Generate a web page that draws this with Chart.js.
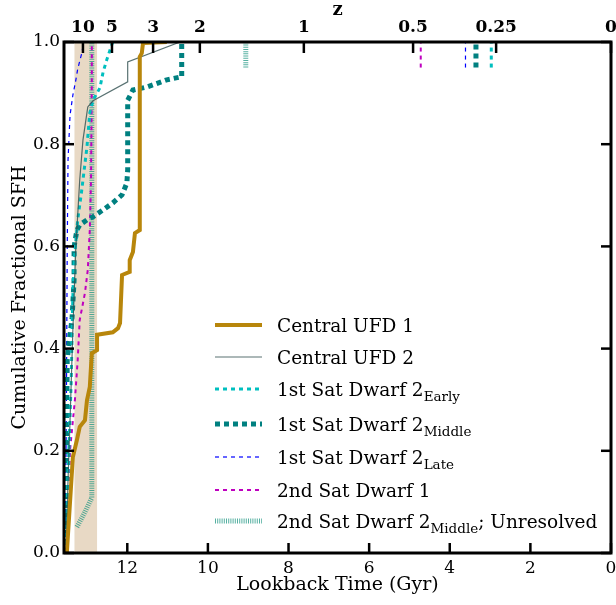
<!DOCTYPE html>
<html><head><meta charset="utf-8">
<script src="https://cdn.jsdelivr.net/npm/chart.js@4.4.0/dist/chart.umd.min.js"></script>
<style>html,body{margin:0;padding:0;background:#fff;} canvas{display:block;}</style>
</head><body>
<canvas id="c" width="616" height="605"></canvas>
<script>
// ---------- data ----------
const xTicks = [0, 2, 4, 6, 8, 10, 12];
const yTicks = [0, 0.2, 0.4, 0.6, 0.8, 1.0];
const zLabels = ['10', '5', '3', '2', '1', '0.5', '0.25', '0'];
const zLookback = [13.10, 12.38, 11.36, 10.20, 7.62, 4.91, 2.85, 0];
const bandRange = [12.75, 13.31];
const xMax = 13.57;

const seriesLabels = [
  'Central UFD 1', 'Central UFD 2', '1st Sat Dwarf 2 Early', '1st Sat Dwarf 2 Middle',
  '1st Sat Dwarf 2 Late', '2nd Sat Dwarf 1', '2nd Sat Dwarf 2 Middle; Unresolved'
];
const legendParts = [
  [['Central UFD 1', 0]],
  [['Central UFD 2', 0]],
  [['1st Sat Dwarf 2', 0], ['Early', 1]],
  [['1st Sat Dwarf 2', 0], ['Middle', 1]],
  [['1st Sat Dwarf 2', 0], ['Late', 1]],
  [['2nd Sat Dwarf 1', 0]],
  [['2nd Sat Dwarf 2', 0], ['Middle', 1], ['; Unresolved', 0]]
];

const ufd1T = [13.50, 13.35, 13.25, 13.18, 13.05, 13.00, 12.93, 12.88, 12.75, 12.75, 12.36, 12.23, 12.18, 12.13, 11.94, 11.94, 11.86, 11.81, 11.69, 11.69, 11.64, 11.61, 11.02];
const ufd1F = [0.0, 0.188, 0.221, 0.247, 0.260, 0.299, 0.325, 0.391, 0.397, 0.427, 0.432, 0.440, 0.450, 0.544, 0.550, 0.573, 0.589, 0.626, 0.632, 0.971, 0.978, 0.998, 1.0];

const ufd2T = [13.52, 13.47, 13.42, 13.35, 13.28, 13.18, 13.10, 12.98, 12.85, 11.99, 11.99, 10.69];
const ufd2F = [0.0, 0.143, 0.260, 0.436, 0.593, 0.730, 0.808, 0.873, 0.885, 0.922, 0.961, 1.0];

const earlyT = [13.52, 13.49, 13.44, 13.39, 13.36, 13.34, 13.30, 13.23, 13.13, 13.00, 12.93, 12.85, 12.68, 12.60, 12.51, 12.43, 12.36];
const earlyF = [0.0, 0.104, 0.221, 0.339, 0.470, 0.534, 0.587, 0.652, 0.710, 0.795, 0.861, 0.886, 0.910, 0.941, 0.965, 0.984, 1.0];

const middleT = [13.52, 13.51, 13.49, 13.42, 13.37, 13.32, 13.32, 13.25, 13.18, 13.00, 12.85, 12.61, 12.36, 12.13, 12.01, 11.99, 11.99, 11.86, 11.51, 11.02, 10.65, 10.65];
const middleF = [0.0, 0.202, 0.378, 0.427, 0.460, 0.534, 0.599, 0.632, 0.642, 0.652, 0.658, 0.671, 0.685, 0.701, 0.724, 0.750, 0.886, 0.906, 0.912, 0.926, 0.932, 1.0];

const lateT = [13.54, 13.51, 13.49, 13.47, 13.42, 13.35, 13.28, 13.23, 13.13, 13.08];
const lateF = [0.0, 0.299, 0.593, 0.769, 0.857, 0.896, 0.924, 0.947, 0.978, 1.0];

const sat1T = [13.50, 13.42, 13.30, 13.23, 13.18, 13.05, 12.98, 12.93, 12.90, 12.88, 12.88];
const sat1F = [0.0, 0.202, 0.299, 0.378, 0.456, 0.509, 0.554, 0.632, 0.730, 0.926, 1.0];

const sat2T = [13.25, 13.05, 12.88, 12.88];
const sat2F = [0.051, 0.080, 0.108, 1.0];

// infall markers (series index -> lookback time), drawn from 0.95 to 1.0
const markerSeries = [2, 3, 4, 5, 6];
const markerT = [2.97, 3.35, 3.61, 4.72, 9.06];
const markerF = [0.95, 1.0];

// ---------- styles ----------
const styles = [
  {color: '#b8860b', width: 4, dash: []},
  {color: 'rgba(47,79,79,0.8)', width: 1.2, dash: []},
  {color: '#00bfbf', width: 3, dash: [4, 4]},
  {color: '#008080', width: 5, dash: [5, 4]},
  {color: '#0000ff', width: 1.2, dash: [4, 4]},
  {color: '#bf00bf', width: 2, dash: [4, 4]},
  {color: 'rgba(30,150,130,0.75)', width: 5, dash: [1, 1.2]}
];

const zip = (t, f) => t.map((v, i) => ({x: v, y: f[i]}));
const seriesData = [zip(ufd1T, ufd1F), zip(ufd2T, ufd2F), zip(earlyT, earlyF), zip(middleT, middleF),
  zip(lateT, lateF), zip(sat1T, sat1F), zip(sat2T, sat2F)];

const datasets = seriesData.map((d, i) => ({
  label: seriesLabels[i], data: d,
  borderColor: styles[i].color, borderWidth: styles[i].width, borderDash: styles[i].dash,
  pointRadius: 0, tension: 0, fill: false, borderCapStyle: 'butt', borderJoinStyle: 'miter'
}));
markerSeries.forEach((s, k) => {
  datasets.push({
    label: seriesLabels[s] + ' infall', data: markerF.map(f => ({x: markerT[k], y: f})),
    borderColor: styles[s].color, borderWidth: styles[s].width, borderDash: styles[s].dash,
    pointRadius: 0, fill: false, borderCapStyle: 'butt'
  });
});

const FONT = "'DejaVu Serif', serif";

const framePlugin = {
  id: 'frame',
  beforeDatasetsDraw(chart) {
    const {ctx, chartArea: a, scales} = chart;
    const x1 = scales.x.getPixelForValue(bandRange[1]);
    const x2 = scales.x.getPixelForValue(bandRange[0]);
    ctx.save();
    ctx.fillStyle = 'rgba(210,180,140,0.5)';
    ctx.fillRect(x1, a.top, x2 - x1, a.bottom - a.top);
    ctx.restore();
  },
  afterDatasetsDraw(chart) {
    const {ctx, chartArea: a, scales} = chart;
    ctx.save();
    ctx.strokeStyle = '#000';
    ctx.lineWidth = 2.5;
    ctx.setLineDash([]);
    const seg = (x1, y1, x2, y2) => { ctx.beginPath(); ctx.moveTo(x1, y1); ctx.lineTo(x2, y2); ctx.stroke(); };
    xTicks.forEach(v => { const p = scales.x.getPixelForValue(v); seg(p, a.bottom, p, a.bottom - 10); });
    zLookback.forEach(v => { const p = scales.x2.getPixelForValue(v); seg(p, a.top, p, a.top + 11); });
    yTicks.forEach(v => { const p = scales.y.getPixelForValue(v); seg(a.left, p, a.left + 10, p); seg(a.right, p, a.right - 10, p); });
    ctx.lineWidth = 3;
    ctx.strokeRect(a.left, a.top, a.right - a.left, a.bottom - a.top);
    ctx.restore();
  },
  afterDraw(chart) {
    const ctx = chart.ctx;
    const rowY = [325, 357, 389, 424, 457, 490, 521];
    legendParts.forEach((parts, i) => {
      const y = rowY[i], st = styles[i];
      ctx.save();
      ctx.strokeStyle = st.color; ctx.lineWidth = st.width; ctx.setLineDash(st.dash); ctx.lineCap = 'butt';
      ctx.beginPath(); ctx.moveTo(215, y); ctx.lineTo(262, y); ctx.stroke();
      ctx.restore();
      ctx.save();
      ctx.fillStyle = '#000'; ctx.textBaseline = 'alphabetic'; ctx.textAlign = 'left';
      let x = 277;
      parts.forEach(([txt, sub]) => {
        ctx.font = (sub ? '13.5px ' : '18.5px ') + FONT;
        ctx.fillText(txt, x, y + 7 + (sub ? 5 : 0));
        x += ctx.measureText(txt).width;
      });
      ctx.restore();
    });
  }
};

const zeroPad = s => { s.paddingLeft = 0; s.paddingRight = 0; s.paddingTop = 0; s.paddingBottom = 0; };

new Chart(document.getElementById('c'), {
  type: 'line',
  data: {datasets},
  options: {
    responsive: false, animation: false, devicePixelRatio: 1,
    layout: {padding: {left: 0, right: 5, top: 0, bottom: 0}},
    plugins: {legend: {display: false}, tooltip: {enabled: false}},
    scales: {
      x: {
        type: 'linear', position: 'bottom', min: 0, max: xMax, reverse: true,
        grid: {display: false, drawTicks: false}, border: {display: false},
        afterBuildTicks: s => { s.ticks = xTicks.map(v => ({value: v})); },
        afterFit: s => { s.height = 52; zeroPad(s); },
        ticks: {font: {family: FONT, size: 17}, color: '#000', padding: 5, autoSkip: false, maxRotation: 0,
          callback: v => String(v)},
        title: {display: true, text: 'Lookback Time (Gyr)', font: {family: FONT, size: 19}, color: '#000', padding: {top: 0, bottom: 9}}
      },
      x2: {
        type: 'linear', position: 'top', min: 0, max: xMax, reverse: true,
        grid: {display: false, drawTicks: false}, border: {display: false},
        afterBuildTicks: s => { s.ticks = zLookback.map(v => ({value: v})); },
        afterFit: s => { s.height = 42; zeroPad(s); },
        ticks: {font: {family: FONT, size: 17, weight: 'bold'}, color: '#000', padding: 4, autoSkip: false, maxRotation: 0,
          callback: (v, i) => zLabels[i]},
        title: {display: true, text: 'z', font: {family: FONT, size: 18, weight: 'bold'}, color: '#000', padding: {top: 0, bottom: 0}}
      },
      y: {
        type: 'linear', position: 'left', min: 0, max: 1,
        grid: {display: false, drawTicks: false}, border: {display: false},
        afterBuildTicks: s => { s.ticks = yTicks.map(v => ({value: v})); },
        afterFit: s => { s.width = 64; zeroPad(s); },
        ticks: {font: {family: FONT, size: 17}, color: '#000', padding: 4, callback: v => v.toFixed(1)},
        title: {display: true, text: 'Cumulative Fractional SFH', font: {family: FONT, size: 19}, color: '#000', padding: {top: 9, bottom: 0}}
      }
    }
  },
  plugins: [framePlugin]
});
</script>
</body></html>
